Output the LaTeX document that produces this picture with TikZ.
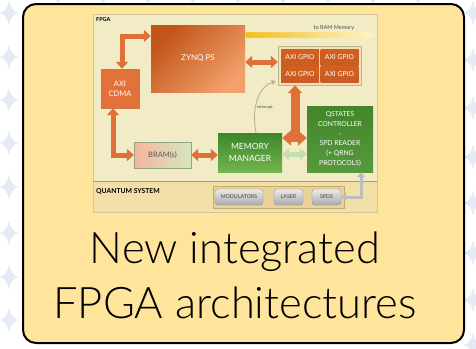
\documentclass[tikz,border=0pt]{standalone}
\usepackage{fontspec}
\setmainfont{Lato}
\newfontfamily\captionfont{Lato Light}
\usetikzlibrary{arrows.meta,calc}

\definecolor{boxyellow}{HTML}{FFE49B}
\definecolor{starblue}{HTML}{E4EAF6}
\definecolor{fpgabg}{HTML}{F1EBC6}
\definecolor{qsbg}{HTML}{F2E0A8}
\definecolor{panelline}{HTML}{D2C79C}
\definecolor{arrowor}{HTML}{DE7038}
\definecolor{zynqdark}{HTML}{C25519}
\definecolor{zynqlight}{HTML}{F2A06C}
\definecolor{cdmaor}{HTML}{E2723A}
\definecolor{gpiocell}{HTML}{C95B24}
\definecolor{gpiobg}{HTML}{F4E1BC}
\definecolor{bramleft}{HTML}{F6B59A}
\definecolor{bramright}{HTML}{D4E7C0}
\definecolor{mmdark}{HTML}{3D862A}
\definecolor{mmlight}{HTML}{74B44E}
\definecolor{qsgreen}{HTML}{43852C}
\definecolor{qsgreenl}{HTML}{579A3C}
\definecolor{lightgreen}{HTML}{C6DEB0}
\definecolor{devbox}{HTML}{EAD398}
\definecolor{devline}{HTML}{C4AC6C}
\definecolor{btntop}{HTML}{EBEBEB}
\definecolor{btnbot}{HTML}{ABABAB}
\definecolor{grayarrow}{HTML}{BDBDBD}
\definecolor{ramgold}{HTML}{F0BE1E}
\definecolor{rampale}{HTML}{FFF4C8}
\definecolor{intline}{HTML}{B3AC90}
\definecolor{intyellow}{HTML}{F0D030}

\tikzset{
  sparkle/.pic={\fill[starblue] (0,-12.5) .. controls (1.5,-5) and (4,-1.5) .. (9.5,0)
      .. controls (4,1.5) and (1.5,5) .. (0,12.5) .. controls (-1.5,5) and (-4,1.5) .. (-9.5,0)
      .. controls (-4,-1.5) and (-1.5,-5) .. (0,-12.5) -- cycle;},
  blk/.style={rectangle, inner sep=0pt, align=center, text=white},
  oarrow/.style={draw=arrowor, line width=5pt, line join=miter,
      arrows={Triangle[width=12pt,length=7pt]-Triangle[width=12pt,length=7pt]}},
  btn/.style={rectangle, rounded corners=3pt, inner sep=0pt, minimum height=16pt,
      top color=btntop, bottom color=btnbot, draw=btnbot!80!black, line width=0.3pt,
      text=black!75, font=\fontsize{5.3}{6}\selectfont},
}

\begin{document}
\begin{tikzpicture}[x=1pt,y=-1pt]
\useasboundingbox (0,0) rectangle (476,348);
\fill[white] (0,0) rectangle (476,348);

% background sparkles
\foreach \yy in {13,57,100,143,187,233,277,320}
  \pic at (9,\yy) {sparkle};
\foreach \yy in {13,60,108,157,203,253,300,345}
  \pic at (473,\yy) {sparkle};
\foreach \xx in {58,103,...,418}
  \pic at (\xx,-6) {sparkle};

% card
\draw[line width=2pt, fill=boxyellow, rounded corners=13pt] (23,4) rectangle (464,343);

% FPGA and quantum system panels
\fill[fpgabg] (93,14) rectangle (377,181);
\fill[qsbg] (93,181) rectangle (377,212);
\draw[panelline, line width=0.6pt] (93,14) rectangle (377,212);
\draw[panelline!80!black, line width=0.6pt] (93,181) -- (377,181);
\node[anchor=west, font=\bfseries\fontsize{5.5}{6}\selectfont, inner sep=0pt] (fpgalbl) at (96,20) {FPGA};
\node[anchor=west, font=\bfseries\fontsize{6.8}{7}\selectfont, inner sep=0pt] (qslbl) at (96,191) {QUANTUM SYSTEM};

% blocks
\node[blk, minimum width=94pt, minimum height=67pt,
      left color=zynqdark, right color=zynqlight, shading angle=45,
      font=\fontsize{8}{9}\selectfont] (zynq) at (198,58.5) {ZYNQ PS};
\node[blk, minimum width=38pt, minimum height=39pt, fill=cdmaor, draw=zynqdark!80, line width=0.4pt,
      font=\fontsize{7.5}{10}\selectfont] (cdma) at (120,88.5) {AXI\\CDMA};
\node[blk, minimum width=57pt, minimum height=26pt, left color=bramleft, right color=bramright,
      draw=bramright!70!black, line width=0.3pt, text=black!65,
      font=\fontsize{7.5}{9}\selectfont] (bram) at (162.5,155) {BRAM(s)};
\node[blk, minimum width=64pt, minimum height=39pt, top color=mmdark, bottom color=mmlight,
      font=\fontsize{8.5}{12}\selectfont] (mm) at (250,152.5) {MEMORY\\MANAGER};
\node[blk, minimum width=66pt, minimum height=66pt, top color=qsgreen, bottom color=qsgreenl,
      font=\fontsize{6.8}{9.8}\selectfont] (qs) at (340,139)
      {QSTATES\\CONTROLLER\\-\\SPD READER\\(+ QRNG\\PROTOCOLS)};

% AXI GPIO group
\node[rectangle, minimum width=83pt, minimum height=39pt, fill=gpiobg, draw=panelline!90!black,
      line width=0.4pt, inner sep=0pt] (gpio) at (319.5,65.5) {};
\foreach \nm/\px/\py in {ga/300/57, gb/339.5/57, gc/300/74.5, gd/339.5/74.5}
  \node[blk, minimum width=38pt, minimum height=16pt, top color=gpiocell!85!orange, bottom color=gpiocell,
        font=\fontsize{6.8}{8}\selectfont] (\nm) at (\px,\py) {AXI GPIO};

% quantum devices
\node[rectangle, minimum width=131pt, minimum height=22pt, fill=devbox, draw=devline,
      line width=0.5pt, inner sep=0pt] (devs) at (278.5,197) {};
\node[btn, minimum width=48pt] (mod) at (239,197) {MODULATORS};
\node[btn, minimum width=29pt] (laser) at (288.5,197) {LASER};
\node[btn, minimum width=29pt] (spds) at (326.5,197) {SPDS};

% connectors
\draw[oarrow] ($(cdma.north)+(2,0)$) |- (zynq.west |- 0,36);
\draw[oarrow] (cdma.south -| 113,0) |- (bram.west);
\draw[oarrow] (bram.east) -- (bram.east -| mm.west);
\draw[oarrow] (zynq.east |- 0,62) -- (gpio.west |- 0,62);
\draw[draw=arrowor, line width=7pt, line join=miter,
      arrows={Triangle[width=15pt,length=9pt]-Triangle[width=15pt,length=9pt]}]
      (mm.east |- 0,138) -- (qs.west |- 0,138);
\coordinate (tee) at (295,136);
\draw[draw=arrowor, line width=9pt, -{Triangle[width=14pt,length=8pt]}] (tee) -- (gpio.south -| tee);
\draw[draw=lightgreen, line width=5pt,
      arrows={Triangle[width=12pt,length=7pt]-Triangle[width=12pt,length=7pt]}]
      (mm.east |- 0,154) -- (qs.west |- 0,154);
\draw[draw=grayarrow, line width=3pt, line join=miter,
      arrows={Triangle[width=8pt,length=5pt]-Triangle[width=8pt,length=5pt]}]
      (qs.south -| 361,0) |- (spds.east);

% interrupt line
\coordinate (intend) at ($(gpio.south west)+(-2,-4)$);
\draw[intline, line width=0.8pt, -{Triangle[width=5pt,length=4pt,fill=intyellow]}]
  (mm.north -| 256,0) .. controls (252,112) and (256,88) .. (intend);
\node[font=\fontsize{4}{5}\selectfont, text=black!70, inner sep=0pt] (intlbl) at (265,107) {interrupt};

% memory link
\coordinate (rams) at (zynq.east |- 0,35);
\coordinate (ram) at (374,35);
\shade[left color=ramgold, right color=rampale, draw=rampale!90!ramgold, line width=0.3pt]
  ($(rams)+(0,-3)$) -- ($(ram)+(-9,-3)$) -- ($(ram)+(-9,-6.5)$) -- (ram) --
  ($(ram)+(-9,6.5)$) -- ($(ram)+(-9,3)$) -- ($(rams)+(0,3)$) -- cycle;
\node[font=\fontsize{5.5}{6}\selectfont, text=black!70, inner sep=0pt] (ramlbl) at (334,28) {to RAM Memory};

% caption
\node[anchor=base, font=\captionfont\fontsize{43.5}{45}\selectfont, text=black, inner sep=0pt] (cap1) at (235,263) {New integrated};
\node[anchor=base, font=\captionfont\fontsize{43.5}{45}\selectfont, text=black, inner sep=0pt] (cap2) at (235,318) {FPGA architectures};
\end{tikzpicture}
\end{document}
